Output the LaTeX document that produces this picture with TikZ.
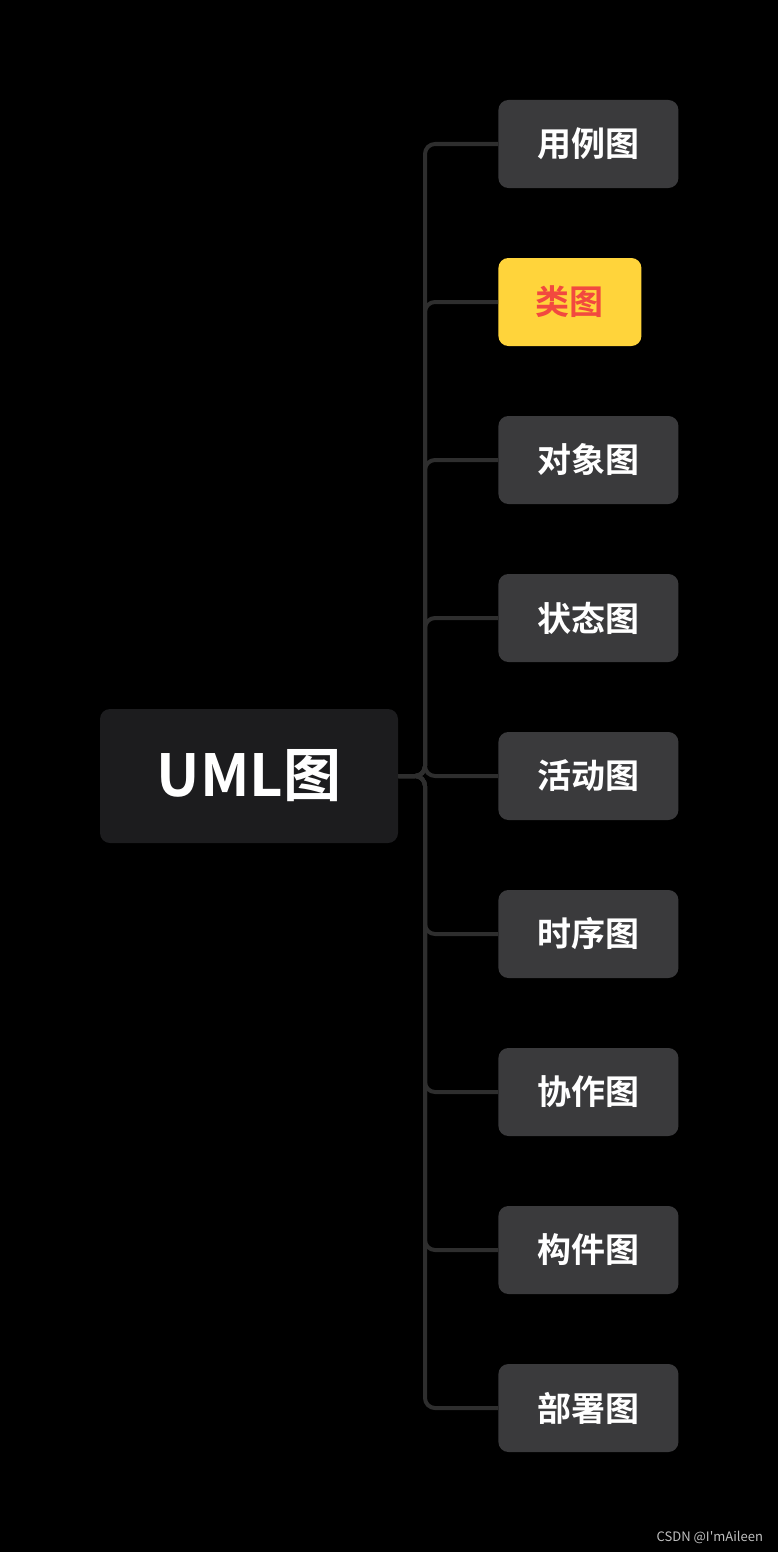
\documentclass[tikz,border=0pt]{standalone}
\usepackage{fontspec}
\newfontfamily\cjk{Noto Sans CJK SC}[BoldFont={Noto Sans CJK SC Bold}]
\setmainfont{Liberation Sans}
\definecolor{bg}{HTML}{000000}
\definecolor{rootfill}{HTML}{1C1C1E}
\definecolor{leaffill}{HTML}{3A3A3C}
\definecolor{linkcol}{HTML}{2E2E2E}
\definecolor{hifill}{HTML}{FFD43B}
\definecolor{hitext}{HTML}{F2493F}

\tikzset{
	rootbox/.style={fill=rootfill, text=white, rounded corners=5pt,
		minimum width=149pt, minimum height=67pt, font=\cjk\bfseries\fontsize{29}{32}\selectfont},
	leafbox/.style={fill=leaffill, text=white, rounded corners=5pt, anchor=west,
		minimum width=90pt, minimum height=44pt, font=\cjk\bfseries\fontsize{17}{20}\selectfont},
	hibox/.style={leafbox, fill=hifill, text=hitext, minimum width=71.5pt},
	link/.style={draw=linkcol, line width=2pt, rounded corners=5pt}
}

\begin{document}
\begin{tikzpicture}[x=0.5pt, y=-0.5pt]

\fill[bg] (0, 0) rectangle (778, 1552);
\useasboundingbox (0, 0) rectangle (778, 1552);

\node[rootbox] (uml) at (249, 776) {UML图};
\coordinate (trunk) at (425, 776);

% children
\node[leafbox] (usecase) at (498, 144) {用例图};
\node[hibox] (class) at (498, 302) {类图};
\node[leafbox] (object) at (498, 460) {对象图};
\node[leafbox] (state) at (498, 618) {状态图};
\node[leafbox] (activity) at (498, 776) {活动图};
\node[leafbox] (sequence) at (498, 934) {时序图};
\node[leafbox] (collab) at (498, 1092) {协作图};
\node[leafbox] (component) at (498, 1250) {构件图};
\node[leafbox] (deploy) at (498, 1408) {部署图};

% links
\foreach \c in {usecase, class, object, state, activity, sequence, collab, component, deploy}
	\draw[link] (uml.east) -- (trunk) |- (\c.west);

\node[text=white!75!black, font=\cjk\fontsize{6.5}{8}\selectfont, anchor=east] (mark) at (770, 1537) {CSDN @I'mAileen};

\end{tikzpicture}
\end{document}
